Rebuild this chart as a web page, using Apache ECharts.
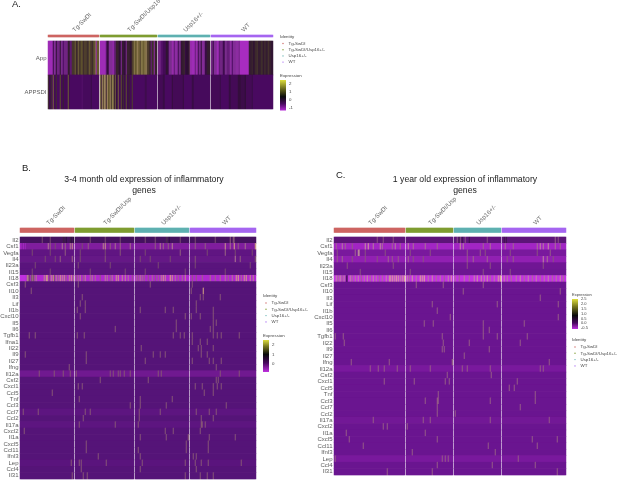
<!DOCTYPE html>
<html><head><meta charset="utf-8">
<style>html,body{margin:0;padding:0;background:#fff}#c{width:617px;height:481px}</style>
<script src="https://cdn.jsdelivr.net/npm/echarts@6/dist/echarts.min.js"></script>
</head><body><div id="c"></div>
<script>
// ---------- data ----------
const groupColors=['#cd6462','#7f9c30','#5fb0b0','#a566f0'];
const aGroups=['Tg-SwDI','Tg-SwDI/Usp16+/-','Usp16+/-','WT'];
const bGroups=['Tg-SwDI','Tg-SwDI/Usp','Usp16+/-','WT'];
const cGroups=['Tg-SwDI','Tg-SwDI/Usp','Usp16+/-','WT'];
const legendNames=['Tg-SwDI','Tg-SwDI/Usp16+/-','Usp16+/-','WT'];
const aSizes=[51,57,52,62], bSizes=[54,59,54,66], cSizes=[71,47,47,64];
const aGenes=['App','APPSDI'];
const bGenes=['Il2','Csf1','Vegfa','Il4','Il23a','Il15','Il18','Csf3','Il10','Il3','Lif','Il1b','Cxcl10','Il5','Il6','Tgfb1','Ifna1','Il22','Il9','Il27','Ifng','Il12a','Csf2','Cxcl1','Ccl5','Tnf','Ccl3','Ccl7','Ccl2','Il17a','Cxcl2','Il1a','Cxcl5','Ccl11','Ifnl3','Lep','Ccl4','Il31'];
const cGenes=bGenes.filter(g=>g!=='Ifna1');
// panel A: run lengths [cells, value, ...] per group
const aApp=[
 [5,-.9,1,.3,2,-.6,1,.5,3,-.4,1,.6,2,-.5,1,0,4,-.4,2,.7,2,-.2,3,1.1,1,1.6,2,.9,1,1.7,2,1.1,2,1.4,1,.9,3,1.2,2,1,1,1.6,2,1.2,1,.8,2,1.3,1,1.8,1,-.8,2,1.5],
 [6,-.9,1,-.2,2,.4,4,-.6,1,-.9,2,-.3,3,.8,2,.5,1,-.6,2,.7,2,.4,1,-.5,3,.8,2,.6,2,1.2,1,2,2,1.5,1,2.2,2,1.7,1,1.2,2,1.9,1,1.5,2,1.8,1,2.2,2,1.2,2,.9,1,-.3,2,1,1,-.8,2,.8],
 [3,-.4,2,-.1,3,.1,2,.6,1,.3,3,-.5,2,-.8,1,-.2,3,-.7,1,.2,2,-.5,1,.6,2,.7,1,.9,1,.3,3,.5,1,1,2,-.8,3,-.9,1,-.3,2,-.8,1,.2,2,-.5,1,.4,3,-.6,2,.3,3,.7],
 [2,-.4,1,.3,3,-.6,2,-.9,1,-.2,3,-.4,2,.2,2,-.5,3,-.3,2,-.7,1,0,3,-.6,3,-.7,1,-.4,9,-1,3,.7,1,.9,2,.6,2,.9,1,1.1,3,.7,2,1,1,.6,2,.9,2,.7,1,1.1,2,.8,2,.6]];
const aSdi=[
 [1,1.1,2,.2,1,1,1,0,1,1.7,2,.1,1,1,3,0,1,1.4,2,.1,1,.8,4,.1,1,1.6,1,.2,12,0,1,-.1,8,.05,1,.3,7,0],
 [1,2,1,.7,1,2.4,1,1.2,2,2.2,1,.8,1,2.4,2,1.5,1,2.3,1,1,2,2,1,.6,1,1.7,2,.3,1,1.7,2,.1,1,1.4,1,.3,1,1,2,.2,1,1.4,2,.2,1,.8,2,.1,1,1.2,12,0,2,.2,10,0],
 [5,.1,2,.3,7,0,1,.4,10,.1,1,.4,8,0,2,.3,16,.05],
 [9,.1,1,.3,8,0,2,.35,7,.1,3,.4,4,.25,1,.5,6,.1,1,.3,20,0]];
// panels B, C: resting value of each gene
const bBase={Il2:.2,Csf1:-.4,Vegfa:-.1,Il4:-.15,Il23a:-.05,Il15:-.05,Il18:-.85,Il12a:-.25,Ccl7:-.08,Il17a:-.08,Lep:-.05};
const cBase={Il2:.15,Csf1:-.6,Vegfa:-.15,Il4:-.4,Il23a:-.05,Il15:-.03,Il18:-.95,Il12a:-.15,Lep:-.15,Il17a:-.08};
// dense genes: [cell, value, ...]
const bDense={
 Il2:[43,.6,44,.6,46,.5,50,.6,51,.5,53,.5,146,.7,147,.7,149,.5,210,1.2,213,1.1,214,1,195,1,22,1,30,1,70,1,85,1,100,1,125,1,135,1,160,1,175,1],
 Csf1:[0,-.7,1,-.7,3,-.8,5,-.7,28,1.5,30,1.2,35,1,42,1.5,45,1.3,50,1.5,52,1.8,62,1,68,1.2,83,1.6,85,1.8,90,1.2,95,1.4,100,1.3,110,1.4,135,1.2,140,1.5,143,1.3,148,1.2,152,1.6,175,1.2,185,1.2,205,1.8,210,1.4,214,2,218,1.2,225,1.4,235,1.8],
 Vegfa:[12,1,30,1,45,1.2,60,1,85,1,100,1.1,125,1,160,1.2,187,1,205,1.3,215,1,232,1],
 Il4:[25,1,35,1,40,1.2,52,1.3,60,1,85,1.1,120,1,130,1,150,1,175,1.1,215,1.5,220,1.2,235,1],
 Il23a:[15,1,58,1,90,1,138,1,175,1,230,1],
 Il15:[12,1,30,1,70,1,105,1,125,1,165,1,205,1],
 Il18:[0,-1,1,-1,2,-1,3,-1,4,-1,5,-1,7,1.6,8,1.4,9,.9,11,1,12,1.4,13,1,14,1.3,16,1.5,24,1.6,26,1.8,27,1.9,29,1,31,1.7,33,1.9,34,1,36,1.6,38,1.4,40,1.9,42,1.7,44,1.8,46,1.3,49,1.7,51,1.9,53,1.4,56,1.2,58,1.4,60,1.6,63,1.3,65,1.6,70,1.4,72,1.5,75,1.4,80,1.2,85,1.6,87,1.5,90,1.3,92,1.5,96,1.8,98,1.9,102,1.7,105,1.7,108,1.5,112,1.2,116,1.4,118,1.3,120,1.5,122,1.4,124,1.3,128,1.2,132,1.4,135,1.2,138,1.3,141,1.6,143,1.9,145,1.7,150,2,152,1.8,155,1.5,158,1.3,162,1.4,165,1.7,172,1.2,176,1.2,182,1.3,190,1.4,195,1.3,200,1.4,205,1.5,208,1.3,212,1.5,216,1.9,218,2,221,1.4,224,1.8,226,1.9,230,1.7,233,1.6],
 Il10:[183,2]
};
const cDense={
 Il2:[43,1,49,1,59,1,119,1,123,1,126,1,131,1,153,1,221,1.1,224,1,125,.5,128,.5,135,.5,170,.5,172,.5],
 Csf1:[2,1.2,8,1.4,11,1.2,18,1.1,31,1.6,34,1.8,39,1.4,46,1.5,48,1.3,58,1.2,61,1.4,66,1.2,74,1.5,79,1.3,91,1.3,103,1.2,126,1.6,129,1.4,149,1.2,156,1.3,171,1.3,179,1.2,203,1.3,206,1.5,209,1.4,214,1.6,221,1.3,226,1.2],
 Vegfa:[3,1,21,1.2,24,1.5,25,1.4,31,1,51,1,76,1,96,1,133,1.1,146,1.1,151,1,176,1,203,1,216,1.1],
 Il4:[3,1.1,8,1.2,18,1,31,1,43,1,54,1.2,58,1.1,64,1.1,74,1.2,79,1,89,1,133,1.1,139,1.2,153,1.2,173,1,179,1.1,209,1.5,213,1.3,219,1],
 Il23a:[13,1,59,1,133,1,156,1,209,1],
 Il15:[26,1,76,1,149,1,176,1],
 Il18:[12,.3,13,.3,2,1.5,4,1.3,6,1.5,8,1.2,10,1.4,16,1.5,18,1.3,21,1.4,24,1.5,27,1.2,30,1.4,33,1.6,36,1.3,39,1.5,42,1.4,45,1.2,48,1.3,52,1.5,55,1.5,56,1.8,58,1.9,60,1.7,62,2,64,1.8,66,1.5,68,1.7,70,1.9,73,1.5,75,1.3,78,1.7,82,1.4,86,1.9,88,1.8,90,2,94,1.4,98,1.6,102,1.3,106,1.4,110,1.2,114,1.5,117,1.8,121,1.3,125,1.2,130,1.4,135,1.3,140,1.5,143,1.7,147,1.6,150,1.5,153,1.7,156,1.3,160,1.4,164,1.8,166,1.9,170,1.5,173,1.4,177,1.3,182,1.4,186,1.6,190,1.3,194,1.5,198,1.3,202,1.5,206,1.3,210,1.4,214,1.5,218,1.3,222,1.4,226,1.6,229,1.3]
};
// sparse genes: cells that light up
const bSparse={Csf3:[5,58,130,172],Il10:[11,171],Il3:[62,180,183,200],Lif:[60,65,176],Il1b:[57,65,120,145,153,176,193],Cxcl10:[60,165,171,180,193],Il5:[156,193,196],Il6:[95,156,190,193],Tgfb1:[9,15,57,64,153,160,164,172,193,197,201,219],Ifna1:[172,180,187],Il22:[121,178,181,193],Il9:[5,66,133,140,145,181,187],Il27:[66,125,172,189,193,201],Ifng:[49,196],Il12a:[19,34,43,50,56,90,93,98,100,104,110,138,141,200,219],Csf2:[80,128,196,198],Cxcl1:[58,62,175,182,193,197,201],Ccl5:[32,184,193],Tnf:[59,120,152],Ccl3:[110,120,146,206],Ccl7:[3,18,65,70,119,140,176,189,196],Ccl2:[63,119,181,193],Il17a:[59,95,118,181,182,185],Cxcl2:[4,145,153,180],Il1a:[120,146,168,189,215],Cxcl5:[66,166,188],Ccl11:[66,118,166,188],Ifnl3:[78,120,173,176],Lep:[51,59,61,86,122,165,175,181,188,221],Ccl4:[61,120,176],Il31:[52,63,67,165,180,187,193]};
const cSparse={Csf3:[82,109,149],Il10:[129,226],Il3:[206],Lif:[98,163,224],Il1b:[103],Cxcl10:[116,224],Il5:[90,99,149,190],Il6:[149,155],Tgfb1:[1,9,108,149,163,193],Il22:[10,109,135,186],Il9:[108,110,155],Il27:[130],Ifng:[17,55,118,215],Il12a:[36,44,50,63,76,96,128,133,156,206,209],Csf2:[113,157],Cxcl1:[50,80,111,115,183],Ccl5:[175,180],Tnf:[104,201],Ccl3:[91,103,104,156,201],Ccl7:[103,186],Ccl2:[103,121],Il17a:[39,89,96,156,215],Cxcl2:[49,53,73],Il1a:[12,91],Cxcl5:[15,103,198,223],Ccl11:[29,154,203],Ifnl3:[78,161],Lep:[1,108,111,114,184],Ccl4:[103,158,201],Il31:[53,98,223]};
const sparseValue=1.1;
// colour ramps, evenly spaced between the value limits
const aRamp=['#a82cc0','#7a2c8c','#4a0a60','#2e0f34','#3f2f2c','#66582f','#8c7c4e','#b08e70'];
const bRamp=['#c030e0','#8a20a8','#561478','#2c0f3c','#7a4a70','#b07a90','#d8a880'];
const cRamp=['#c838e4','#9a22bc','#6b1690','#3c1248','#8a5080','#c088a0','#e0b090'];

// ---------- build ----------
function cols(sizes){const out=[];let n=0;sizes.forEach((s,g)=>{for(let i=0;i<s;i++)out.push({i:n++,g});if(g<sizes.length-1)out.push({i:n++,g:-1});});return out;}
function panelA(){const d=[];[aApp,aSdi].forEach((row,r)=>{let c=0;row.forEach((runs,g)=>{for(let k=0;k<runs.length;k+=2){for(let j=0;j<runs[k];j++)d.push([c++,r,runs[k+1]]);}c++;});});return d;}
function panelGrid(sizes,genes,base,dense,sparse){const cs=cols(sizes),d=[];genes.forEach((g,r)=>{const m={};const ds=dense[g]||[];for(let k=0;k<ds.length;k+=2)m[ds[k]]=ds[k+1];(sparse[g]||[]).forEach(c=>m[c]=sparseValue);cs.forEach(c=>{if(c.g<0)return;const v=m[c.i]!==undefined?m[c.i]:(base[g]||0);d.push([c.i,r,v]);});});return d;}
const panels=[
 {sizes:aSizes,genes:aGenes,names:aGroups,data:panelA(),ramp:aRamp,min:-1,max:2.5,x:48,w:225,y:41,h:68,by:35,bh:2,fs:6},
 {sizes:bSizes,genes:bGenes,names:bGroups,data:panelGrid(bSizes,bGenes,bBase,bDense,bSparse),ramp:bRamp,min:-1,max:2,x:20,w:236,y:237,h:242,by:228,bh:4.5,fs:6},
 {sizes:cSizes,genes:cGenes,names:cGroups,data:panelGrid(cSizes,cGenes,cBase,cDense,cSparse),ramp:cRamp,min:-1,max:2,x:334,w:232,y:237,h:238,by:228,bh:4.5,fs:6}
];
const grid=[],xAxis=[],yAxis=[],series=[],visualMap=[];
panels.forEach((p,idx)=>{
 const cs=cols(p.sizes),cats=cs.map(c=>c.i);
 const mids={};let st=0;p.sizes.forEach((s,g)=>{mids[st+Math.floor(s/2)]=p.names[g];st+=s+1;});
 const gi=grid.length;
 grid.push({left:p.x,top:p.y,width:p.w,height:p.h,outerBoundsMode:'none'});
 grid.push({left:p.x,top:p.by,width:p.w,height:p.bh,outerBoundsMode:'none'});
 xAxis.push({gridIndex:gi,type:'category',data:cats,show:false});
 xAxis.push({gridIndex:gi+1,type:'category',data:cats,position:'top',axisLine:{show:false},axisTick:{show:false},
  axisLabel:{show:true,rotate:-45,fontSize:6.2,color:'#666',fontFamily:'Liberation Sans',margin:4,hideOverlap:false,
   interval:(i)=>mids[i]!==undefined,formatter:(v)=>mids[v]||''}});
 yAxis.push({gridIndex:gi,type:'category',inverse:true,data:p.genes,axisLine:{show:false},axisTick:{show:false},
  axisLabel:{interval:0,fontSize:p.fs,color:'#5c5c5c',fontFamily:'Liberation Sans',margin:1.5}});
 yAxis.push({gridIndex:gi+1,type:'category',data:['group'],show:false});
 const hs=series.length;
 series.push({type:'heatmap',xAxisIndex:gi,yAxisIndex:gi,data:p.data,progressive:0,animation:false,emphasis:{disabled:true},itemStyle:{borderWidth:0}});
 visualMap.push({show:false,seriesIndex:hs,dimension:2,min:p.min,max:p.max,inRange:{color:p.ramp}});
 series.push({type:'heatmap',xAxisIndex:gi+1,yAxisIndex:gi+1,progressive:0,animation:false,emphasis:{disabled:true},
  data:cs.filter(c=>c.g>=0).map(c=>({value:[c.i,0,c.g],itemStyle:{color:groupColors[c.g]}}))});
});
const T=(x,y,text,fs,extra)=>({type:'text',x,y,silent:true,style:Object.assign({text,fontSize:fs,fontFamily:'Liberation Sans',fill:'#444',textVerticalAlign:'middle'},extra||{})});
const g=[];
g.push(T(12,4,'A.',9.5,{fill:'#222'}),T(22,168,'B.',9.5,{fill:'#222'}),T(336,175,'C.',9.5,{fill:'#222'}));
g.push(T(144,180,'3-4 month old expression of inflammatory',8.7,{textAlign:'center',fill:'#222'}),T(144,190.5,'genes',8.7,{textAlign:'center',fill:'#222'}));
g.push(T(465,180,'1 year old expression of inflammatory',8.7,{textAlign:'center',fill:'#222'}),T(465,190.5,'genes',8.7,{textAlign:'center',fill:'#222'}));
function identity(x,y,dx,step,fs){g.push(T(x,y,'Identity',fs));legendNames.forEach((n,i)=>{const yy=y+7+i*step;
 g.push({type:'circle',silent:true,shape:{cx:x+dx,cy:yy,r:.7},style:{fill:groupColors[i]}});g.push(T(x+dx+5.5,yy,n,fs));});}
function colorbar(x,y,h,labels,fs){g.push(T(x,y-4.5,'Expression',fs));
 g.push({type:'rect',silent:true,shape:{x,y,width:6,height:h},style:{fill:{type:'linear',x:0,y:0,x2:0,y2:1,colorStops:labels.stops}}});
 labels.ticks.forEach(t=>g.push(T(x+9,t[1],t[0],fs)));}
identity(280,36.5,3,6.2,4.4);
colorbar(280,80,30.5,{stops:[{offset:0,color:'#dede3c'},{offset:.33,color:'#5a5a18'},{offset:.55,color:'#0a0a0a'},{offset:.78,color:'#4a0a60'},{offset:1,color:'#b52ad6'}],ticks:[['2',84],['1',92],['0',100],['-1',108]]},4.4);
identity(263,296,3,6.3,4.4);
colorbar(263,340,32,{stops:[{offset:0,color:'#dede3c'},{offset:.2,color:'#77771e'},{offset:.45,color:'#0a0a0a'},{offset:.72,color:'#4a0a60'},{offset:1,color:'#c030e0'}],ticks:[['2',345],['1',354.5],['0',364]]},4.4);
colorbar(572,299,30,{stops:[{offset:0,color:'#dede3c'},{offset:.25,color:'#77771e'},{offset:.55,color:'#0a0a0a'},{offset:.8,color:'#4a0a60'},{offset:1,color:'#c030e0'}],ticks:[['2.5',298.5],['2.0',303.5],['1.5',308.5],['1.0',313.5],['0.5',318.5],['0.0',323],['-0.5',328]]},4);
identity(572,340,3,6.3,4.4);
const chart=echarts.init(document.getElementById('c'),null,{renderer:'canvas'});
chart.setOption({animation:false,backgroundColor:'#fff',tooltip:{show:false},grid,xAxis,yAxis,visualMap,series,graphic:{elements:g}});
</script></body></html>
